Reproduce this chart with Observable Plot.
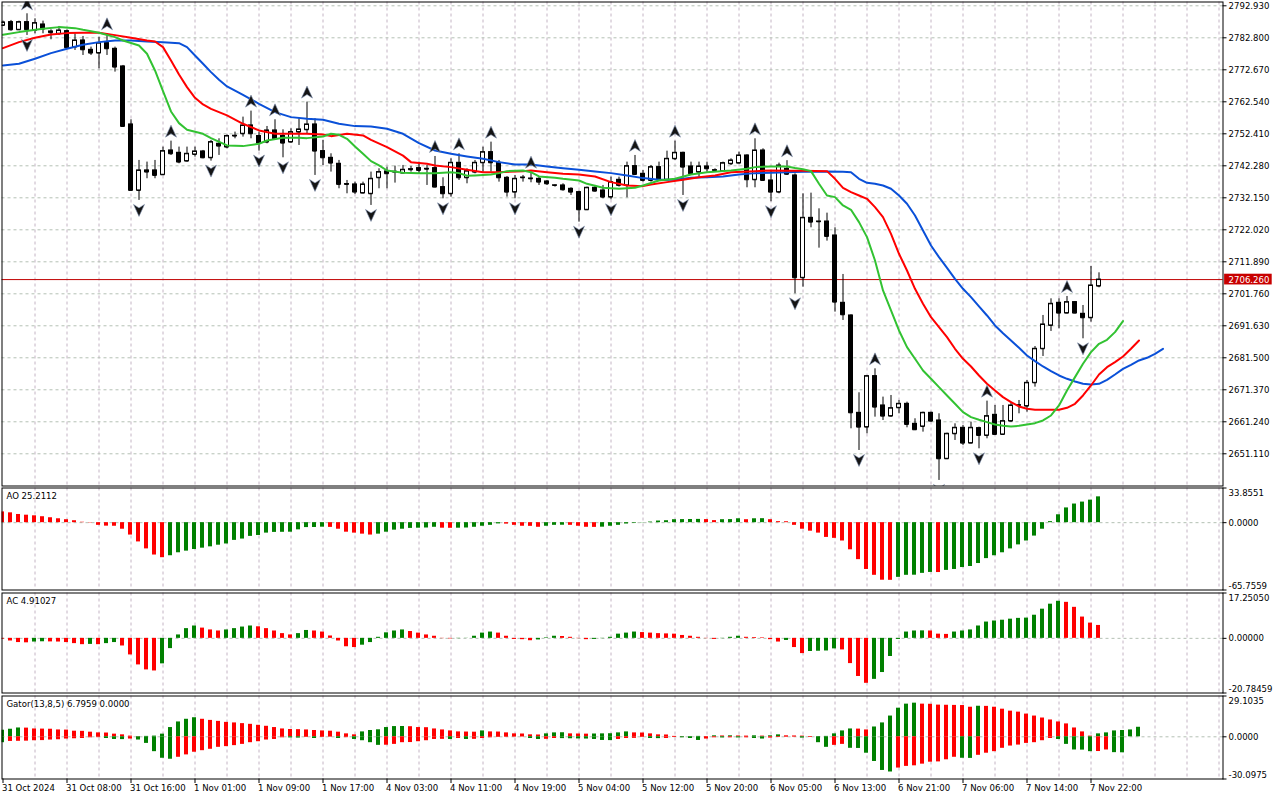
<!DOCTYPE html>
<html><head><meta charset="utf-8">
<script src="https://cdn.jsdelivr.net/npm/d3@7"></script>
<script src="https://cdn.jsdelivr.net/npm/@observablehq/plot@0.6"></script>
<style>
html,body{margin:0;padding:0;background:#fff;}
#chart{position:relative;width:1280px;height:800px;overflow:hidden;background:#fff;}
</style></head><body><div id="chart"></div>
<script>
// ---------------- DATA ----------------
const opens = [2786.71,2787.76,2785.33,2787.76,2785.12,2787.02,2784.81,2784.07,2784.91,2779.85,
2781.96,2779.00,2777.95,2781.11,2779.32,2773.73,2755.37,2734.48,2740.82,2740.82,
2739.44,2747.14,2746.40,2743.76,2745.87,2746.82,2744.81,2749.25,2748.20,2751.70,
2752.42,2755.06,2751.70,2749.78,2753.47,2751.70,2749.78,2752.94,2753.68,2755.37,
2746.93,2744.81,2742.92,2736.38,2736.38,2733.63,2733.42,2738.49,2740.50,2740.29,
2739.97,2741.01,2741.54,2741.33,2741.54,2735.53,2733.42,2743.23,2738.48,2740.27,
2743.23,2746.60,2743.23,2738.48,2733.94,2738.48,2738.16,2738.16,2737.32,2736.06,
2736.06,2735.00,2733.94,2728.35,2735.32,2734.47,2732.36,2737.85,2736.06,2742.17,
2739.75,2737.64,2741.86,2737.85,2744.49,2746.39,2742.07,2740.27,2742.07,2740.80,
2740.59,2742.91,2743.12,2745.55,2737.85,2747.13,2737.64,2733.94,2741.33,2739.22,
2706.82,2725.81,2724.65,2724.65,2720.22,2698.91,2694.90,2664.08,2659.55,2675.69,
2666.41,2663.03,2665.67,2666.93,2660.60,2659.76,2664.08,2661.66,2649.53,2657.44,
2659.34,2654.48,2659.23,2656.91,2663.45,2657.23,2661.45,2666.41,2666.20,2673.58,
2684.35,2691.74,2698.91,2695.64,2699.12,2695.43,2694.16,2704.18];
const highs = [2788.08,2788.29,2788.08,2790.40,2788.82,2788.08,2785.33,2786.39,2785.33,2784.07,
2783.23,2779.85,2783.01,2784.07,2779.85,2774.05,2756.85,2743.98,2743.45,2743.98,
2748.20,2750.09,2748.20,2748.20,2748.20,2747.14,2750.31,2750.83,2752.02,2752.94,
2757.69,2759.59,2752.94,2754.73,2756.85,2753.68,2753.99,2757.17,2762.44,2757.17,
2750.31,2746.08,2743.98,2737.64,2737.11,2737.11,2740.29,2741.34,2741.86,2742.18,
2742.39,2742.07,2743.44,2742.39,2745.23,2738.48,2744.49,2746.08,2741.33,2743.97,
2748.19,2749.77,2743.97,2738.90,2739.22,2739.22,2740.27,2738.90,2737.64,2736.27,
2736.58,2735.32,2734.26,2735.53,2736.06,2736.06,2738.69,2738.69,2743.44,2745.55,
2740.80,2742.39,2743.44,2746.92,2750.09,2746.60,2743.44,2743.44,2743.44,2741.33,
2743.44,2744.49,2746.60,2745.76,2750.83,2747.66,2740.80,2743.12,2743.90,2739.74,
2733.41,2733.62,2728.66,2727.29,2722.65,2707.88,2695.11,2670.42,2675.90,2678.01,
2669.05,2669.57,2667.99,2667.46,2662.19,2664.30,2664.30,2663.77,2657.65,2660.60,
2660.07,2661.13,2659.55,2667.78,2666.41,2666.41,2667.46,2667.99,2674.31,2685.08,
2694.90,2700.17,2700.17,2700.91,2699.33,2698.06,2710.41,2708.40];
const lows = [2786.39,2784.91,2785.12,2783.54,2784.07,2784.07,2782.17,2783.54,2779.32,2778.79,
2777.21,2777.21,2772.99,2777.21,2771.94,2754.52,2734.27,2731.32,2738.18,2738.18,
2739.23,2745.56,2742.92,2743.45,2745.03,2744.50,2743.76,2745.56,2747.67,2750.83,
2751.36,2750.83,2746.93,2749.25,2750.52,2744.81,2749.46,2748.72,2752.42,2739.23,
2742.39,2740.29,2735.00,2733.42,2733.21,2733.42,2729.73,2735.00,2735.00,2736.80,
2739.76,2740.27,2739.75,2736.06,2735.32,2731.83,2732.36,2737.64,2736.58,2739.75,
2740.27,2740.27,2737.11,2732.36,2731.83,2737.11,2736.90,2736.06,2736.06,2735.53,
2734.26,2732.89,2724.44,2728.14,2733.94,2731.83,2731.52,2735.53,2732.15,2739.22,
2737.11,2737.11,2737.64,2737.64,2743.97,2732.89,2739.53,2738.69,2740.27,2740.27,
2740.27,2742.39,2742.91,2735.32,2735.32,2737.43,2730.90,2733.41,2739.22,2701.76,
2703.86,2722.65,2716.21,2718.43,2695.96,2693.32,2659.02,2652.16,2657.44,2662.71,
2661.66,2662.71,2663.77,2659.34,2658.50,2657.97,2661.13,2642.68,2649.32,2655.33,
2653.74,2654.27,2652.69,2655.86,2657.12,2657.12,2661.13,2663.77,2664.30,2672.21,
2681.92,2689.84,2690.68,2695.43,2695.43,2687.51,2692.79,2703.66];
const closes = [2787.66,2785.33,2787.76,2785.33,2787.45,2785.55,2784.39,2785.12,2779.64,2781.96,
2779.00,2777.95,2781.11,2779.32,2773.52,2754.73,2734.48,2740.82,2740.29,2739.23,
2746.93,2746.08,2743.45,2746.08,2746.82,2744.81,2749.78,2748.51,2751.70,2751.80,
2755.06,2752.42,2749.46,2753.47,2750.83,2749.46,2752.94,2753.79,2755.37,2746.93,
2744.81,2743.13,2736.38,2736.50,2733.95,2736.38,2738.17,2740.29,2739.76,2740.40,
2741.02,2741.22,2740.80,2741.22,2735.53,2733.42,2743.23,2738.48,2740.59,2743.23,
2746.60,2743.23,2738.48,2733.94,2738.16,2738.58,2738.26,2737.11,2736.58,2736.10,
2734.68,2733.94,2728.35,2735.32,2734.26,2732.36,2737.11,2736.06,2742.17,2739.53,
2737.64,2741.86,2737.85,2744.49,2746.39,2741.86,2739.75,2742.07,2741.33,2740.90,
2743.12,2743.97,2745.55,2737.85,2747.13,2737.64,2733.94,2742.38,2739.60,2706.82,
2725.81,2724.44,2724.55,2719.91,2699.12,2695.11,2664.08,2659.55,2675.69,2665.88,
2663.03,2665.56,2666.93,2660.39,2658.71,2664.08,2661.45,2649.53,2657.44,2659.34,
2654.48,2659.34,2656.91,2663.03,2657.23,2661.45,2666.41,2666.50,2673.58,2684.35,
2692.05,2698.59,2695.64,2699.12,2695.64,2694.16,2704.40,2706.26];

const fractalUpBars = [3,13,21,31,34,38,54,57,61,66,79,84,94,98,109,123,133];
const fractalDownBars = [3,17,26,32,35,39,46,55,64,72,76,85,96,99,107,117,122,135];

const jawBars = [0,2,4,6,8,10,12,14,16,18,20,22,23,24,25,26,27,28,30,32,34,36,38,40,42,44,46,48,50,52,54,56,58,60,62,64,66,68,70,72,74,76,78,80,82,84,86,88,90,92,94,96,98,100,103,105,106,107,108,109,110,111,112,113,114,115,116,117,118,119,120,121,122,123,124,125,126,127,128,129,130,131,132,133,134,135,136,137,138,139,140,141,142,143,144,145];
const jawVals = [2774.04,2774.57,2776.16,2777.95,2779.32,2780.59,2781.43,2781.96,2781.96,2781.64,2781.43,2781.11,2779.85,2777.21,2774.57,2771.93,2769.51,2767.40,2764.76,2761.91,2759.27,2757.69,2757.16,2756.84,2755.58,2754.84,2754.73,2753.99,2752.41,2749.45,2747.13,2746.08,2745.23,2744.49,2743.44,2742.70,2742.70,2742.07,2741.54,2741.01,2740.49,2739.96,2739.22,2738.38,2737.85,2737.85,2738.48,2738.69,2738.90,2739.54,2739.96,2740.06,2740.27,2740.40,2740.48,2740.38,2740.27,2738.16,2736.89,2736.58,2736.05,2735.00,2732.89,2730.25,2726.55,2721.81,2717.06,2713.36,2709.99,2706.51,2703.34,2700.70,2697.75,2694.90,2691.73,2689.30,2686.98,2684.66,2682.24,2680.44,2678.75,2677.28,2675.90,2674.85,2674.00,2673.27,2673.06,2673.27,2674.53,2676.22,2678.01,2679.28,2680.65,2681.50,2682.76,2684.35];

const teethBars = [0,2,4,6,8,10,12,14,16,18,19,20,21,22,23,24,25,26,28,30,32,34,36,38,40,41,43,45,46,48,50,51,53,54,56,58,60,62,65,66,68,70,72,74,76,78,80,81,83,85,87,89,91,94,96,98,100,103,104,105,106,107,108,109,110,111,112,113,114,115,116,117,118,119,120,121,122,123,124,125,126,127,128,129,130,131,132,133,134,135,136,137,138,139,140,141,142];
const teethVals = [2779.53,2781.43,2782.80,2783.86,2784.28,2784.39,2784.39,2783.65,2782.80,2781.96,2781.64,2779.85,2775.63,2771.19,2767.18,2763.81,2761.70,2760.32,2758.22,2755.58,2753.47,2752.41,2752.41,2752.41,2752.20,2751.67,2752.41,2751.88,2750.51,2748.19,2745.50,2743.44,2742.91,2742.39,2741.86,2741.01,2740.27,2740.27,2740.59,2740.80,2740.27,2739.75,2739.54,2738.90,2737.11,2736.06,2735.84,2736.37,2737.11,2737.85,2738.69,2739.22,2740.27,2740.59,2740.80,2740.70,2740.70,2740.59,2738.16,2735.31,2733.94,2732.89,2731.83,2729.19,2726.03,2720.75,2714.42,2709.14,2703.34,2698.59,2694.37,2691.20,2688.04,2684.35,2681.18,2678.75,2675.90,2673.27,2671.16,2669.05,2667.46,2666.09,2665.35,2665.04,2665.04,2665.04,2665.04,2665.67,2666.94,2669.58,2672.74,2676.22,2678.54,2680.13,2681.92,2684.35,2686.99];

const lipsBars = [0,2,5,7,9,10,12,14,15,17,18,19,20,21,22,23,25,26,28,30,32,33,35,37,38,40,41,42,43,44,45,46,47,48,50,52,54,56,57,58,59,61,62,63,65,66,67,69,70,72,73,75,77,79,80,82,84,86,88,91,93,94,96,98,99,100,101,102,103,104,105,106,107,108,109,110,111,112,113,114,115,116,117,118,119,120,121,122,123,124,125,126,127,128,129,130,131,132,133,134,135,136,137,138,139,140];
const lipsVals = [2783.75,2784.60,2785.65,2786.18,2785.86,2785.33,2784.39,2783.01,2781.96,2780.37,2777.74,2772.46,2765.92,2759.48,2755.79,2753.68,2752.41,2751.04,2748.72,2748.51,2749.25,2750.30,2751.15,2751.15,2751.04,2751.57,2752.41,2752.10,2750.83,2748.40,2746.08,2743.76,2742.39,2740.80,2740.10,2739.96,2739.96,2740.27,2739.96,2739.11,2739.22,2739.54,2739.96,2740.59,2740.80,2740.27,2738.90,2738.48,2738.16,2737.64,2736.58,2735.32,2735.00,2735.32,2736.06,2737.64,2738.16,2739.54,2740.27,2740.80,2741.33,2741.86,2742.07,2742.06,2741.60,2741.20,2740.59,2736.58,2732.89,2732.36,2729.72,2728.35,2724.44,2719.70,2712.31,2702.81,2696.48,2690.15,2684.88,2681.18,2677.49,2674.85,2672.21,2669.58,2666.94,2664.30,2662.71,2661.87,2661.13,2660.39,2659.97,2659.76,2659.97,2660.39,2660.81,2661.66,2663.24,2666.41,2671.16,2675.38,2679.60,2683.29,2685.93,2687.19,2689.62,2693.10];

const aoVals = [10.5,9.6,8.0,7.3,6.7,5.8,4.8,3.8,2.9,1.9,
0.4,-0.3,-2.6,-3.4,-3.5,-6.4,-12.1,-18.8,-25.6,-31.6,
-34.2,-32.3,-29.4,-27.8,-26.2,-24.9,-23.6,-22.0,-20.8,-17.3,
-16.0,-13.4,-12.5,-10.2,-9.5,-9.4,-9.3,-7.0,-4.8,-4.7,
-4.4,-4.6,-6.4,-9.3,-10.2,-11.2,-12.1,-11.2,-9.3,-7.3,
-6.4,-5.6,-5.4,-5.2,-4.5,-5.4,-5.5,-5.4,-5.2,-4.5,
-3.5,-2.6,-1.2,-1.4,-2.6,-3.5,-3.6,-4.5,-3.5,-2.6,
-2.5,-2.6,-3.5,-4.5,-4.6,-4.4,-3.5,-2.6,-1.3,-0.6,
-0.2,0.6,1.6,1.9,2.9,3.0,3.1,3.2,3.0,2.0,
2.9,3.0,3.8,2.9,3.8,3.9,2.9,1.0,0.9,-2.6,
-6.4,-8.3,-10.2,-14.4,-15.3,-17.9,-26.5,-36.1,-45.7,-51.4,
-56.2,-56.3,-53.4,-51.4,-51.3,-49.5,-48.6,-48.7,-46.6,-45.7,
-43.8,-42.8,-39.9,-35.1,-32.3,-29.4,-25.6,-21.7,-17.9,-13.1,
-6.4,1.0,7.7,14.4,18.2,20.1,22.0,25.2112];
const aoColorRuns = [["r",21],["g",20],["r",6],["g",8],["r",2],["g",6],["r",5],["g",3],["r",4],["g",13],["r",2],["g",3],["r",1],["g",2],["r",16],["g",5],["r",1],["g",20]];

const acVals = [-0.3,-1.0,-1.6,-1.7,-1.4,-1.3,-1.35,-1.4,-1.6,-2.0,
-2.4,-2.3,-2.4,-2.0,-1.6,-2.9,-6.3,-10.1,-12.0,-12.4,
-9.7,-3.9,1.3,3.7,4.7,3.9,3.2,2.8,3.2,3.7,
4.3,4.7,4.4,3.7,2.8,1.8,1.3,1.8,3.0,2.8,
2.4,0.9,-1.0,-3.2,-3.5,-2.6,-1.6,0.4,2.1,2.8,
3.2,2.6,2.0,1.3,0.8,-0.1,-0.2,-0.1,0.05,0.8,
2.0,2.4,2.0,0.8,-0.4,-0.5,-0.9,-0.6,0.2,0.8,
0.7,0.4,-0.1,-0.5,-0.4,-0.1,0.4,1.6,2.0,2.4,
2.2,2.0,1.8,1.7,1.6,1.1,0.8,0.4,-0.1,-0.4,
-0.1,0.4,0.8,0.4,0.3,0.2,-0.5,-1.4,-0.8,-3.5,
-5.8,-5.0,-4.9,-4.8,-4.0,-4.4,-9.6,-14.5,-17.1,-15.6,
-13.0,-6.9,-0.4,2.4,2.8,2.85,2.8,1.6,1.5,2.4,
2.8,3.2,4.7,6.2,6.6,6.9,7.3,7.6,7.7,8.8,
11.1,13.0,14.1,13.7,11.8,8.1,5.8,4.91027];
const acColorRuns = [["r",4],["g",2],["r",5],["g",1],["r",1],["g",2],["r",5],["g",5],["r",3],["g",4],["r",5],["g",2],["r",6],["g",6],["r",6],["g",5],["r",5],["g",3],["r",4],["g",6],["r",10],["g",3],["r",5],["g",1],["r",2],["g",4],["r",4],["g",7],["r",3],["g",14],["r",5]];

const gatorUpVals = [4.7,5.4,6.3,6.2,5.6,5.5,5.4,4.9,4.8,4.0,
3.9,3.3,2.8,2.7,1.9,1.4,0.5,0.2,0.3,0.5,
1.9,6.6,10.6,12.5,13.6,12.5,11.7,11.0,10.3,9.9,
9.4,8.9,8.2,7.5,6.6,5.6,5.2,5.1,4.9,4.5,
4.2,4.0,3.3,2.1,1.4,3.5,4.5,5.0,6.6,7.3,
7.35,7.2,6.6,6.5,5.6,4.9,4.2,3.5,3.4,3.3,
4.2,3.5,3.4,2.8,2.1,2.0,1.4,1.3,2.1,2.8,
2.9,2.1,2.0,1.9,2.0,2.1,2.2,2.8,3.5,2.8,
2.7,2.1,1.4,1.3,0.3,0.1,0.2,0.3,0.2,0.7,
0.6,0.7,0.6,0.5,0.7,0.5,0.7,1.4,0.7,0.6,
0.5,0.1,0.2,0.3,2.1,4.2,5.6,5.5,4.9,7.0,
9.9,14.8,20.4,23.3,24.0,23.3,23.2,22.6,22.5,22.4,
22.3,21.1,21.8,21.7,21.1,19.7,18.3,17.6,16.2,14.8,
13.4,12.0,10.6,9.2,6.3,3.5,0.5,2.1,2.8,4.2,
4.5,4.9,6.7959];
const gatorUpColorRuns = [["g",3],["r",15],["g",7],["r",20],["g",6],["r",9],["g",1],["r",7],["g",3],["r",3],["g",5],["r",7],["g",2],["r",1],["g",1],["r",1],["g",1],["r",2],["g",1],["r",1],["g",2],["r",4],["g",5],["r",2],["g",6],["r",7],["g",1],["r",14],["g",6]];
const gatorLowVals = [4.2,3.3,3.2,3.1,2.8,2.7,2.3,2.1,1.6,1.4,
1.2,0.7,0.6,1.2,1.9,2.0,1.6,2.3,4.7,10.6,
15.3,16.0,14.6,12.9,11.0,9.9,8.9,7.5,7.0,6.3,
5.4,4.2,3.5,2.3,1.9,0.7,0.8,0.9,0.5,1.2,
0.5,0.3,1.2,0.6,1.9,2.8,4.2,6.1,6.0,5.4,
4.2,4.1,3.5,2.8,1.9,1.8,1.9,1.2,1.9,1.8,
1.2,0.7,0.5,0.4,0.3,0.2,1.2,1.9,1.8,1.2,
1.3,1.4,1.5,1.6,1.9,2.6,2.7,1.9,1.2,1.1,
0.5,1.2,1.3,1.2,0.5,0.7,1.2,2.6,1.6,0.7,
0.8,0.7,0.8,0.7,1.2,1.6,0.9,0.5,0.4,0.3,
0.9,0.5,4.2,7.5,6.1,5.4,8.2,8.3,11.7,17.6,
24.0,25.1,22.3,21.1,20.7,19.5,18.1,17.9,16.4,14.6,
15.3,15.4,13.2,11.7,10.6,8.2,6.6,5.9,4.7,4.2,
2.8,1.2,1.9,5.4,9.4,9.5,10.6,10.5,9.4,11.3,
11.4];
const gatorLowColorRuns = [["g",1],["r",12],["g",3],["r",1],["g",5],["r",14],["g",2],["r",1],["g",1],["r",2],["g",1],["r",1],["g",4],["r",8],["g",1],["r",1],["g",1],["r",7],["g",2],["r",2],["g",7],["r",4],["g",2],["r",2],["g",3],["r",2],["g",1],["r",1],["g",1],["r",1],["g",2],["r",4],["g",1],["r",1],["g",2],["r",2],["g",6],["r",8],["g",2],["r",10],["g",5],["r",2],["g",2]];

const priceTicks = [2792.930,2782.800,2772.670,2762.540,2752.410,2742.280,2732.150,2722.020,2711.890,2701.760,2691.630,2681.500,2671.370,2661.240,2651.110];
const aoTicks = [33.8551, 0, -65.7559];
const acTicks = [17.25050, 0, -20.78459];
const gatorTicks = [29.1035, 0, -30.0975];
const timeLabels = ["31 Oct 2024","31 Oct 08:00","31 Oct 16:00","1 Nov 01:00","1 Nov 09:00","1 Nov 17:00","4 Nov 03:00","4 Nov 11:00","4 Nov 19:00","5 Nov 04:00","5 Nov 12:00","5 Nov 20:00","6 Nov 05:00","6 Nov 13:00","6 Nov 21:00","7 Nov 06:00","7 Nov 14:00","7 Nov 22:00"];
const labelBars = [0,8,16,24,32,40,48,56,64,72,80,88,96,104,112,120,128,136];

// ---------------- RENDER ----------------
const GREEN = "#008000", RED = "#ff0000";
const FONT = '"DejaVu Sans Condensed","DejaVu Sans",sans-serif';
const XD = [-0.125, 152.5];           // bar index domain across plot width
const chart = document.getElementById("chart");
const idx = d3.range(opens.length);
const gridBars = d3.range(4, 153, 4);
const expand = runs => runs.flatMap(([c, n]) => Array(n).fill(c === "g" ? GREEN : RED));
const aoColors = expand(aoColorRuns), acColors = expand(acColorRuns);
const gUpColors = expand(gatorUpColorRuns), gLoColors = expand(gatorLowColorRuns);
const V_GRID = "#c4b4c4", H_GRID = "#b4c0b4";

function panel(svgTop, pTop, pBottom, extraBottom, domain, marks) {
  const mt = pTop - svgTop;
  const h = Math.ceil(pBottom - svgTop + 1.5 + extraBottom);
  const mb = h - (pBottom - svgTop);
  const svg = Plot.plot({
    width: 1280, height: h,
    marginTop: mt, marginBottom: mb, marginLeft: 1.5, marginRight: 57.5,
    x: {domain: XD, axis: null},
    y: {domain, axis: null},
    color: {type: "identity"},
    style: {background: "transparent", fontFamily: FONT, fontSize: "9.5px", color: "black", overflow: "visible"},
    marks
  });
  svg.style.position = "absolute";
  svg.style.left = "0px";
  svg.style.top = svgTop + "px";
  chart.appendChild(svg);
}

const vGrid = () => Plot.ruleX(gridBars, {stroke: V_GRID, strokeDasharray: "3,3"});
function sideAxis(vals, fmt) {
  const tx = XD[1] + 0.7;
  return [
    Plot.ruleY(vals, {x1: XD[1], x2: XD[1] + 0.5, stroke: "black"}),
    Plot.text([vals[0]], {x: tx, y: d => d, text: fmt, textAnchor: "start", lineAnchor: "top", dy: 1.5, fill: "black"}),
    Plot.text([vals[1]], {x: tx, y: d => d, text: fmt, textAnchor: "start", lineAnchor: "middle", fill: "black"}),
    Plot.text([vals[2]], {x: tx, y: d => d, text: fmt, textAnchor: "start", lineAnchor: "bottom", dy: -1, fill: "black"})
  ];
}
const barX1 = d => d - 0.3125, barX2 = d => d + 0.1875;

// fractal arrow glyphs (stealth arrowheads)
const upArrow = {draw(ctx) { ctx.moveTo(0, -7); ctx.lineTo(5.5, 5); ctx.lineTo(0, 1.5); ctx.lineTo(-5.5, 5); ctx.closePath(); }};
const downArrow = {draw(ctx) { ctx.moveTo(0, 7); ctx.lineTo(5.5, -5); ctx.lineTo(0, -1.5); ctx.lineTo(-5.5, -5); ctx.closePath(); }};

// ---- main price panel ----
const PX = 3.1589;                      // px per price unit
const mainTop = 1.5, mainBottom = 485.5;
const mainDomain = [2792.93 - (mainBottom - 5.3) / PX, 2792.93 + (5.3 - mainTop) / PX];
const last = closes[closes.length - 1];
panel(0, mainTop, mainBottom, 0, mainDomain, [
  vGrid(),
  Plot.ruleY(priceTicks, {stroke: H_GRID, strokeDasharray: "3,3"}),
  Plot.ruleY([last], {stroke: "#c00000"}),
  Plot.ruleX(idx, {x: d => d, y1: d => lows[d], y2: d => highs[d], stroke: "black", clip: true}),
  Plot.rect(idx, {x1: d => d - 0.25, x2: d => d + 0.25,
    y1: d => Math.min(opens[d], closes[d]), y2: d => Math.max(opens[d], closes[d]),
    fill: d => closes[d] > opens[d] ? "white" : "black", stroke: "black", clip: true}),
  Plot.ruleY(idx, {y: d => opens[d], x1: d => d - 0.25, x2: d => d + 0.25, stroke: "black", clip: true}),
  Plot.ruleY(idx, {y: d => closes[d], x1: d => d - 0.25, x2: d => d + 0.25, stroke: "black", clip: true}),
  Plot.lineY(jawVals, {x: jawBars, stroke: "#0a50d8", strokeWidth: 2, clip: true}),
  Plot.lineY(teethVals, {x: teethBars, stroke: "#ff0000", strokeWidth: 2, clip: true}),
  Plot.lineY(lipsVals, {x: lipsBars, stroke: "#32c232", strokeWidth: 2, clip: true}),
  Plot.dot(fractalUpBars, {x: d => d, y: d => highs[d], symbol: upArrow, fill: "#141414", stroke: "#8090b0", strokeWidth: 0.6, dy: -9, clip: true}),
  Plot.dot(fractalDownBars, {x: d => d, y: d => lows[d], symbol: downArrow, fill: "#141414", stroke: "#8090b0", strokeWidth: 0.6, dy: 9, clip: true}),
  Plot.frame({stroke: "black"}),
  Plot.ruleY(priceTicks, {x1: XD[1], x2: XD[1] + 0.5, stroke: "black"}),
  Plot.text(priceTicks, {x: XD[1] + 0.7, y: d => d, text: d => d.toFixed(3), textAnchor: "start", lineAnchor: "middle", fill: "black"}),
  Plot.rect([last], {x1: XD[1] + 0.2, x2: XD[1] + 6.15, y1: d => d - 1.7, y2: d => d + 1.7, fill: "#c80000"}),
  Plot.text([last], {x: XD[1] + 0.7, y: d => d, text: d => d.toFixed(3), textAnchor: "start", lineAnchor: "middle", fill: "white"})
]);

// ---- AO panel ----
panel(486, 487.5, 589.5, 0, [aoTicks[2], aoTicks[0]], [
  vGrid(),
  Plot.ruleY([0], {stroke: H_GRID, strokeDasharray: "3,3"}),
  Plot.rect(idx, {x1: barX1, x2: barX2, y1: 0, y2: d => aoVals[d], fill: d => aoColors[d], clip: true}),
  Plot.frame({stroke: "black"}),
  Plot.text([`AO ${aoVals[aoVals.length - 1].toFixed(4)}`], {frameAnchor: "top-left", dx: 4.5, dy: 4, lineAnchor: "top", textAnchor: "start", fill: "black"}),
  ...sideAxis(aoTicks, d => d.toFixed(4))
]);

// ---- AC panel ----
panel(591, 592.5, 692.5, 0, [acTicks[2], acTicks[0]], [
  vGrid(),
  Plot.ruleY([0], {stroke: H_GRID, strokeDasharray: "3,3"}),
  Plot.rect(idx, {x1: barX1, x2: barX2, y1: 0, y2: d => acVals[d], fill: d => acColors[d], clip: true}),
  Plot.frame({stroke: "black"}),
  Plot.text([`AC ${acVals[acVals.length - 1].toFixed(5)}`], {frameAnchor: "top-left", dx: 4.5, dy: 4, lineAnchor: "top", textAnchor: "start", fill: "black"}),
  ...sideAxis(acTicks, d => d.toFixed(5))
]);

// ---- Gator panel + time axis ----
const gDomain = [gatorTicks[2], gatorTicks[0]];
const unitPerPx = (gDomain[1] - gDomain[0]) / (778.5 - 695.5);
const upIdx = d3.range(gatorUpVals.length), loIdx = d3.range(gatorLowVals.length);
panel(694, 695.5, 778.5, 20, gDomain, [
  vGrid(),
  Plot.ruleY([0], {stroke: H_GRID, strokeDasharray: "3,3"}),
  Plot.rect(upIdx, {x1: barX1, x2: barX2, y1: 0, y2: d => gatorUpVals[d], fill: d => gUpColors[d], clip: true}),
  Plot.rect(loIdx, {x1: barX1, x2: barX2, y1: 0, y2: d => -gatorLowVals[d], fill: d => gLoColors[d], clip: true}),
  Plot.frame({stroke: "black"}),
  Plot.text([`Gator(13,8,5) ${gatorUpVals[gatorUpVals.length - 1].toFixed(4)} ${(0).toFixed(4)}`], {frameAnchor: "top-left", dx: 4.5, dy: 4, lineAnchor: "top", textAnchor: "start", fill: "black"}),
  ...sideAxis(gatorTicks, d => d.toFixed(4)),
  Plot.ruleX(labelBars, {x: d => d, y1: gDomain[0], y2: gDomain[0] - 4.5 * unitPerPx, stroke: "black"}),
  Plot.text(labelBars, {x: d => d, y: gDomain[0], text: (d, i) => timeLabels[i], textAnchor: "start", lineAnchor: "top", dy: 5.5, dx: -1, fill: "black"})
]);
</script></body></html>
